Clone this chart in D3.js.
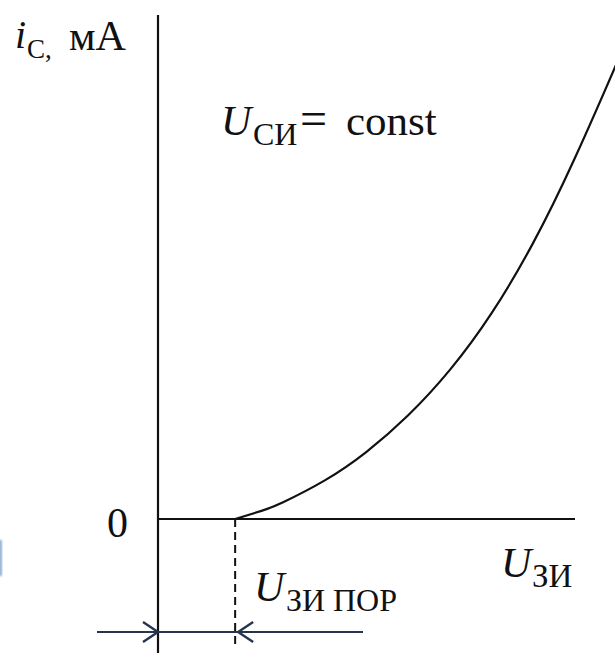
<!DOCTYPE html>
<html>
<head>
<meta charset="utf-8">
<script src="https://cdn.jsdelivr.net/npm/d3@7"></script>
<style>
  html, body { margin: 0; padding: 0; background: #fff; }
  svg { display: block; }
  text { font-family: "Liberation Serif", "Times New Roman", serif; fill: #111; }
</style>
</head>
<body>
<script>
// Transfer characteristic of an enhancement MOSFET: drain current vs gate-source voltage
const gateVoltage = [1.85, 2.5, 3.0, 4.0, 5.0, 6.0, 7.0, 8.0, 9.0, 10.0, 11.0, 11.2];
const drainCurrent = [0, 0.2, 0.4, 0.92, 1.6, 2.47, 3.55, 4.9, 6.58, 8.6, 10.85, 11.32];
const thresholdVoltage = 1.85;
const yTickLabels = ["0"];

const W = 615, H = 653;
const svg = d3.select("body").append("svg").attr("width", W).attr("height", H);

const x = d3.scaleLinear().domain([0, 10]).range([158, 575]);
const y = d3.scaleLinear().domain([0, 12]).range([519, 15]);

const ink = "#111";
const navy = "#26344f";

// faint mark at the left edge
svg.append("defs").append("filter").attr("id", "soft")
  .append("feGaussianBlur").attr("stdDeviation", 1.2);
svg.append("rect").attr("x", -2).attr("y", 540).attr("width", 4).attr("height", 36)
  .attr("fill", "#3a6fb0").attr("opacity", 0.55).attr("filter", "url(#soft)");

// axes
svg.append("line")
  .attr("x1", x(0)).attr("x2", x(0)).attr("y1", y(12)).attr("y2", H)
  .attr("stroke", ink).attr("stroke-width", 2.2);
svg.append("line")
  .attr("x1", x(0)).attr("x2", x(10)).attr("y1", y(0)).attr("y2", y(0))
  .attr("stroke", ink).attr("stroke-width", 2.2);

// zero tick label
svg.selectAll("text.ytick").data(yTickLabels).enter().append("text")
  .attr("class", "ytick")
  .attr("x", x(0) - 30).attr("y", y(0) + 18)
  .attr("text-anchor", "end").attr("font-size", 42)
  .text(d => d);

// threshold marker
svg.append("line")
  .attr("x1", x(thresholdVoltage)).attr("x2", x(thresholdVoltage))
  .attr("y1", y(0)).attr("y2", 645)
  .attr("stroke", ink).attr("stroke-width", 2)
  .attr("stroke-dasharray", "8,5");

// curve
const line = d3.line()
  .x((d, i) => x(gateVoltage[i]))
  .y(d => y(d))
  .curve(d3.curveNatural);
svg.append("path")
  .datum(drainCurrent)
  .attr("d", line)
  .attr("fill", "none")
  .attr("stroke", ink)
  .attr("stroke-width", 2.2);

// dimension arrows for the threshold
const arrowY = 632;
svg.append("line")
  .attr("x1", 97).attr("x2", 363).attr("y1", arrowY).attr("y2", arrowY)
  .attr("stroke", navy).attr("stroke-width", 2.2);
svg.append("path")
  .attr("d", `M${x(0) - 15},${arrowY - 10}L${x(0)},${arrowY}L${x(0) - 15},${arrowY + 10}`)
  .attr("fill", "none").attr("stroke", navy).attr("stroke-width", 2.4);
const xt = x(thresholdVoltage) + 3;
svg.append("path")
  .attr("d", `M${xt + 15},${arrowY - 10}L${xt},${arrowY}L${xt + 15},${arrowY + 10}`)
  .attr("fill", "none").attr("stroke", navy).attr("stroke-width", 2.4);

// labels: each piece placed on its own
function piece(px, py, str, size, italic) {
  return svg.append("text").attr("x", px).attr("y", py)
    .attr("font-size", size).attr("font-style", italic ? "italic" : "normal")
    .text(str);
}

// y-axis title
piece(15, 48, "i", 40, true);
piece(27, 58, "C,", 27, false);
piece(69, 50, "мА", 42, false);

// condition
piece(221, 135, "U", 42, true);
piece(253, 145, "СИ", 32, false);
piece(300, 135, "=", 48, false);
piece(346, 135, "const", 43, false);

// threshold voltage
piece(254, 601, "U", 42, true);
piece(286, 611, "ЗИ", 32, false);
piece(333, 611, "ПОР", 32, false);

// x-axis title
piece(501, 577, "U", 42, true);
piece(532, 587, "ЗИ", 33, false);
</script>
</body>
</html>
